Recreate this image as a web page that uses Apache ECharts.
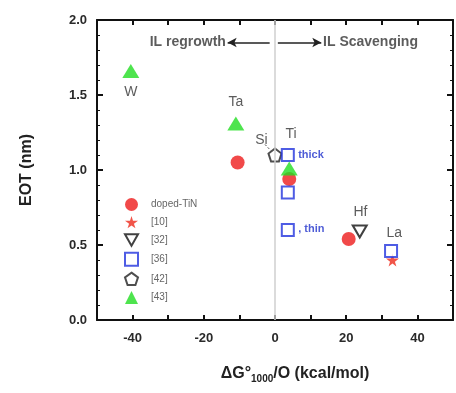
<!DOCTYPE html>
<html>
<head>
<meta charset="utf-8">
<script src="https://cdn.jsdelivr.net/npm/echarts@6/dist/echarts.min.js"></script>
<style>
  html, body { margin: 0; padding: 0; background: #fff; }
  #chart { width: 456px; height: 393px; }
</style>
</head>
<body>
<div id="chart"></div>
<script>
// 数据 (x: ΔG°1000/O, y: EOT)
const dopedTiN = [[-10.5, 1.05], [4, 0.94], [20.7, 0.54]];
const ref10 = [[33, 0.40]];
const ref32 = [[23.8, 0.59]];
const ref36 = [[3.6, 1.10], [3.6, 0.85], [3.6, 0.60], [32.6, 0.46]];
const ref42 = [[0, 1.10]];
const ref43 = [[-40.5, 1.66], [-11, 1.31], [4, 1.01]];
const xTicks = [-40, -20, 0, 20, 40];
const yTicks = [0, 0.5, 1.0, 1.5, 2.0];

// 图中文字标注
const blackLabels = [[-40.5, 1.52, 'W'], [-11, 1.45, 'Ta'], [-3.8, 1.20, 'Si'], [4.5, 1.24, 'Ti'], [24, 0.72, 'Hf'], [33.5, 0.58, 'La']];
const blueLabels = [[6.5, 1.10, 'thick'], [6.5, 0.61, ', thin']];
const arrowY = 1.85;

const chart = echarts.init(document.getElementById('chart'));

const star = 'path://M50,0 L61,35 L98,35 L68,57 L79,91 L50,70 L21,91 L32,57 L2,35 L39,35 Z';
const downTri = 'path://M0,0 L100,0 L50,87 Z';
const pentagon = 'path://M50,0 L98,35 L79,91 L21,91 L2,35 Z';
const font = 'Liberation Sans, Arial, sans-serif';

const tickLabel = { color: '#2a2a2a', fontSize: 13, fontWeight: 'bold', fontFamily: font };

const option = {
  animation: false,
  grid: { left: 97, top: 20, width: 358, height: 300 },
  legend: {
    orient: 'vertical',
    left: 124,
    top: 198,
    padding: 0,
    itemGap: 5,
    itemWidth: 13,
    itemHeight: 13,
    data: ['doped-TiN', '[10]', '[32]', '[36]', '[42]', '[43]'],
    textStyle: { color: '#666', fontSize: 10, fontFamily: font, padding: [0, 0, 0, 8] }
  },
  xAxis: [
    {
      type: 'value', min: -50, max: 50, interval: 10,
      name: '{a|ΔG°}{s|1000}{a|/O (kcal/mol)}',
      nameLocation: 'middle', nameGap: 44,
      nameTextStyle: {
        padding: [0, 0, 0, 40],
        rich: {
          a: { fontSize: 16, fontWeight: 'bold', color: '#222', fontFamily: font },
          s: { fontSize: 10, fontWeight: 'bold', color: '#222', fontFamily: font, padding: [10, 0, 0, 0] }
        }
      },
      axisLine: { onZero: false, lineStyle: { color: '#111', width: 2 } },
      axisTick: { inside: true, length: 5, lineStyle: { color: '#111', width: 2 } },
      minorTick: { show: false },
      axisLabel: Object.assign({}, tickLabel, {
        margin: 12,
        formatter: v => xTicks.includes(v) ? String(v) : ''
      }),
      splitLine: { show: false }
    },
    {
      type: 'value', min: -50, max: 50, interval: 10, position: 'top',
      axisLine: { onZero: false, lineStyle: { color: '#111', width: 2 } },
      axisTick: { inside: true, length: 5, lineStyle: { color: '#111', width: 2 } },
      axisLabel: { show: false },
      splitLine: { show: false }
    }
  ],
  yAxis: [
    {
      type: 'value', min: 0, max: 2, interval: 0.5,
      name: 'EOT (nm)', nameLocation: 'middle', nameGap: 62,
      nameTextStyle: { fontSize: 16, fontWeight: 'bold', color: '#222', fontFamily: font },
      axisLine: { onZero: false, lineStyle: { color: '#111', width: 2 } },
      axisTick: { inside: true, length: 6, lineStyle: { color: '#111', width: 2 } },
      minorTick: { show: true, splitNumber: 5, length: 3, lineStyle: { color: '#111' } },
      axisLabel: Object.assign({}, tickLabel, {
        margin: 10,
        formatter: v => yTicks.includes(v) ? v.toFixed(1) : ''
      }),
      splitLine: { show: false }
    },
    {
      type: 'value', min: 0, max: 2, interval: 0.5, position: 'right',
      axisLine: { onZero: false, lineStyle: { color: '#111', width: 2 } },
      axisTick: { inside: true, length: 6, lineStyle: { color: '#111', width: 2 } },
      minorTick: { show: true, splitNumber: 5, length: 3, lineStyle: { color: '#111' } },
      axisLabel: { show: false },
      splitLine: { show: false }
    }
  ],
  series: [
    {
      name: 'doped-TiN', type: 'scatter', data: dopedTiN, symbol: 'circle', symbolSize: 14,
      itemStyle: { color: '#ee1c1c' }, z: 3,
      markLine: {
        silent: true, symbol: 'none', label: { show: false },
        lineStyle: { color: '#cfcfcf', width: 1.5, type: 'solid' },
        data: [{ xAxis: 0 }]
      }
    },
    {
      name: '[10]', type: 'scatter', data: ref10, symbol: star, symbolSize: 13,
      itemStyle: { color: '#ee2a1c' }, z: 2
    },
    {
      name: '[32]', type: 'scatter', data: ref32, symbol: downTri, symbolSize: [14, 12],
      itemStyle: { color: '#fff', borderColor: '#111', borderWidth: 2 }, z: 4
    },
    {
      name: '[36]', type: 'scatter', data: ref36, symbol: 'rect', symbolSize: 12,
      itemStyle: { color: '#fff', borderColor: '#2233dd', borderWidth: 2 }, z: 4
    },
    {
      name: '[42]', type: 'scatter', data: ref42, symbol: pentagon, symbolSize: 13,
      itemStyle: { color: '#fff', borderColor: '#222', borderWidth: 2 }, z: 3,
      markLine: {
        silent: true, symbol: 'none', label: { show: false },
        lineStyle: { color: '#444', width: 1, type: [2, 2] },
        data: [[{ coord: [-2.8, 1.17] }, { coord: [-1.2, 1.13] }]]
      }
    },
    {
      name: '[43]', type: 'scatter', data: ref43, symbol: 'triangle', symbolSize: [17, 14],
      itemStyle: { color: '#22dd22' }, z: 5
    },
    {
      // 黑色文字标注
      type: 'scatter', silent: true, symbolSize: 0,
      data: blackLabels.map(d => ({ value: [d[0], d[1]], name: d[2] })),
      label: { show: true, position: 'inside', formatter: p => p.name, color: '#333', fontSize: 14, fontFamily: font }
    },
    {
      // 蓝色文字标注
      type: 'scatter', silent: true, symbolSize: 0,
      data: blueLabels.map(d => ({ value: [d[0], d[1]], name: d[2] })),
      label: { show: true, position: 'right', distance: 0, formatter: p => p.name, color: '#2233cc', fontSize: 11, fontWeight: 'bold', fontFamily: font }
    },
    {
      // 箭头与区域说明
      type: 'scatter', silent: true, symbolSize: 0,
      data: [
        { value: [-13.8, arrowY], name: 'IL regrowth', label: { position: 'left', distance: 0 } },
        { value: [13.5, arrowY], name: 'IL Scavenging', label: { position: 'right', distance: 0 } }
      ],
      label: { show: true, formatter: p => p.name, color: '#333', fontSize: 14, fontWeight: 'bold', fontFamily: font },
      markLine: {
        silent: true, symbol: ['none', 'arrow'], symbolSize: [7, 9], label: { show: false },
        lineStyle: { color: '#222', width: 1.5, type: 'solid' },
        data: [
          [{ coord: [-1.5, arrowY] }, { coord: [-13.3, arrowY] }],
          [{ coord: [0.8, arrowY] }, { coord: [13, arrowY] }]
        ]
      }
    }
  ]
};

chart.setOption(option);
</script>
</body>
</html>
